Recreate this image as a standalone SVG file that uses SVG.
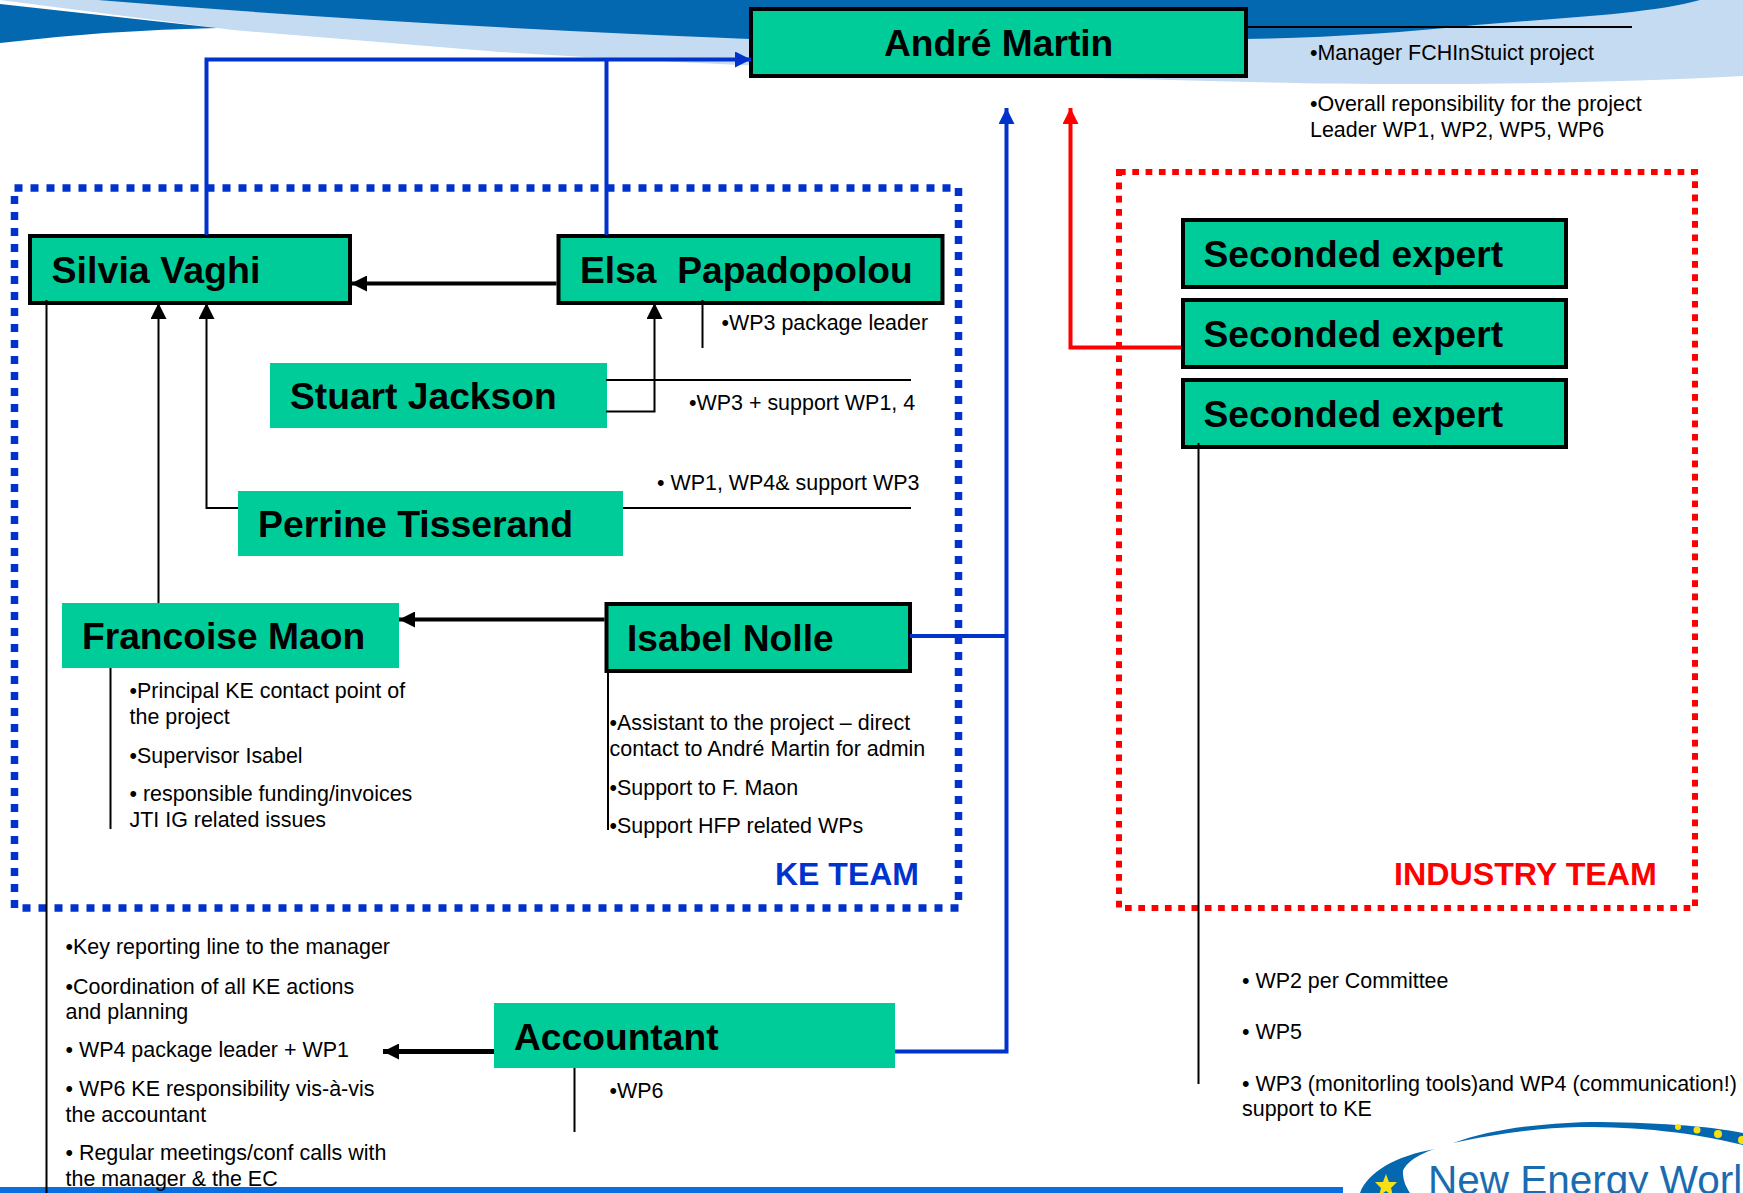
<svg xmlns="http://www.w3.org/2000/svg" width="1743" height="1193" viewBox="0 0 1743 1193">
<style>
.n{fill:#00cc99}
.b{stroke:#000;stroke-width:4}
.name{font:bold 37.200px "Liberation Sans",Arial,sans-serif;fill:#000}
.t{font:21.450px "Liberation Sans",Arial,sans-serif;fill:#000}
.team{font:bold 32px "Liberation Sans",Arial,sans-serif}
.thin{fill:none;stroke:#000;stroke-width:2}
.blk{fill:none;stroke:#000;stroke-width:4}
.blu{fill:none;stroke:#0033cc;stroke-width:4}
.red{fill:none;stroke:#ff0000;stroke-width:4}
</style>
<defs>
<marker id="ab" markerUnits="userSpaceOnUse" markerWidth="16" markerHeight="16" refX="16" refY="8" orient="auto"><path d="M0 0L16 8L0 16Z" fill="#000"/></marker>
<marker id="au" markerUnits="userSpaceOnUse" markerWidth="16" markerHeight="16" refX="16" refY="8" orient="auto"><path d="M0 0L16 8L0 16Z" fill="#0033cc"/></marker>
<marker id="ar" markerUnits="userSpaceOnUse" markerWidth="16" markerHeight="16" refX="16" refY="8" orient="auto"><path d="M0 0L16 8L0 16Z" fill="#ff0000"/></marker>
</defs>
<rect width="1743" height="1193" fill="#fff"/>
<g id="banner">
<path d="M0 0H1743V76C1600 84 1400 86 1250 82C1000 76 800 70 500 52L233 30Z" fill="#c5dbf1"/>
<path d="M0 43Q110 30 217 28L0 4Z" fill="#0468b1"/>
<path d="M98 0H1700C1650 14 1560 18 1476 25C1400 33 1320 38 1243 39H750Q400 25 98 0Z" fill="#0468b1"/>
</g>
<rect id="bottom-band" x="0" y="1187" width="1343" height="6" fill="#0a6de0"/>
<g id="logo">
<path d="M1360 1193C1368 1172 1395 1156 1435 1149C1412 1156 1402 1168 1403 1173C1403 1180 1406 1187 1410 1193Z" fill="#0468b1"/>
<path d="M1453 1143C1490 1130 1530 1124 1590 1122C1650 1122 1710 1126 1743 1133V1145C1690 1132 1640 1127 1580 1127C1535 1128 1490 1135 1453 1143Z" fill="#0468b1"/>
<polygon points="1386,1174 1389,1182 1397,1182 1391,1188 1393,1196 1386,1191 1379,1196 1381,1188 1375,1182 1383,1182" fill="#f7e017"/>
<circle cx="1678" cy="1127" r="3" fill="#f7e017"/><circle cx="1697" cy="1130" r="3.500" fill="#f7e017"/><circle cx="1718" cy="1134" r="4" fill="#f7e017"/><circle cx="1742" cy="1140" r="4" fill="#f7e017"/>
<text x="1428" y="1193.500" style="font:40.500px 'Liberation Sans',Arial,sans-serif;fill:#1a6cb0">New Energy Worl</text>
</g>
<g id="team-frames">
<rect x="14.500" y="188" width="944" height="720" fill="none" stroke="#0033cc" stroke-width="7.500" stroke-dasharray="8 8"/>
<rect x="1119" y="172" width="576" height="736" fill="none" stroke="#ff0000" stroke-width="6" stroke-dasharray="6.700 6.600"/>
<text class="team" x="775" y="885" fill="#0033cc">KE TEAM</text>
<text class="team" x="1394" y="885" fill="#ff0000" style="font-size:32.200px">INDUSTRY TEAM</text>
</g>
<g id="andre"><rect class="n b" x="751" y="9" width="495" height="67"/><text class="name" x="884" y="56">André Martin</text></g>
<g id="silvia"><rect class="n b" x="30" y="236" width="320" height="67"/><text class="name" x="51.500" y="283" textLength="209" lengthAdjust="spacingAndGlyphs">Silvia Vaghi</text></g>
<g id="elsa"><rect class="n b" x="558.500" y="236" width="384" height="67"/><text class="name" x="580" y="283" xml:space="preserve">Elsa  Papadopolou</text></g>
<g id="stuart"><rect class="n" x="270" y="363" width="337" height="65"/><text class="name" x="290" y="409">Stuart Jackson</text></g>
<g id="perrine"><rect class="n" x="238" y="491" width="385" height="65"/><text class="name" x="258" y="537" textLength="315" lengthAdjust="spacingAndGlyphs">Perrine Tisserand</text></g>
<g id="francoise"><rect class="n" x="62" y="603" width="337" height="65"/><text class="name" x="82" y="649">Francoise Maon</text></g>
<g id="isabel"><rect class="n b" x="606.500" y="604" width="303.500" height="67"/><text class="name" x="627" y="651">Isabel Nolle</text></g>
<g id="accountant"><rect class="n" x="494" y="1003" width="401" height="65"/><text class="name" x="514" y="1050">Accountant</text></g>
<g id="seconded-1"><rect class="n b" x="1183" y="220" width="383" height="67"/><text class="name" x="1203.500" y="267">Seconded expert</text></g>
<g id="seconded-2"><rect class="n b" x="1183" y="300" width="383" height="67"/><text class="name" x="1203.500" y="347">Seconded expert</text></g>
<g id="seconded-3"><rect class="n b" x="1183" y="380" width="383" height="67"/><text class="name" x="1203.500" y="427">Seconded expert</text></g>
<g id="connectors">
<path class="blu" d="M206.500 235V59.500H751" marker-end="url(#au)"/>
<path class="blu" d="M606.500 235V59.500"/>
<path class="blu" d="M895 1051.500H1006.500V108" marker-end="url(#au)"/>
<path class="blu" d="M910 636H1006.500"/>
<path class="red" d="M1181 347.500H1070.500V108" marker-end="url(#ar)"/>
<path class="blk" d="M556.500 283.500H351" marker-end="url(#ab)"/>
<path class="blk" d="M604.500 619.500H399" marker-end="url(#ab)"/>
<path class="blk" style="stroke-width:5" d="M494 1051.500H383" marker-end="url(#ab)"/>
<path class="thin" d="M606 411.500H654.500V303" marker-end="url(#ab)"/>
<path class="thin" d="M238 508H206.500V303" marker-end="url(#ab)"/>
<path class="thin" d="M158.500 603V303" marker-end="url(#ab)"/>
<path class="thin" d="M1247 27H1632"/>
<path class="thin" d="M46.500 300V1193"/>
<path class="thin" d="M110.500 668V829"/>
<path class="thin" d="M608 671V830"/>
<path class="thin" d="M702.500 300V348"/>
<path class="thin" d="M606 380H911"/>
<path class="thin" d="M623 508H911"/>
<path class="thin" d="M1198.500 443V1084"/>
<path class="thin" d="M574.500 1068V1132"/>
</g>
<g id="notes">
<text class="t" x="1310" y="60">•Manager FCHInStuict project</text>
<text class="t" x="1310" y="111">•Overall reponsibility for the project</text>
<text class="t" x="1310" y="137">Leader WP1, WP2, WP5, WP6</text>
<text class="t" x="721.500" y="330">•WP3 package leader</text>
<text class="t" x="689" y="410">•WP3 + support WP1, 4</text>
<text class="t" x="657" y="490">• WP1, WP4&amp; support WP3</text>
<text class="t" x="129.500" y="698">•Principal KE contact point of</text>
<text class="t" x="129.500" y="724">the project</text>
<text class="t" x="129.500" y="763">•Supervisor Isabel</text>
<text class="t" x="129.500" y="801">• responsible funding/invoices</text>
<text class="t" x="129.500" y="827">JTI IG related issues</text>
<text class="t" x="609.500" y="730">•Assistant to the project – direct</text>
<text class="t" x="609.500" y="756">contact to André Martin for admin</text>
<text class="t" x="609.500" y="795">•Support to F. Maon</text>
<text class="t" x="609.500" y="833">•Support HFP related WPs</text>
<text class="t" x="65.500" y="954">•Key reporting line to the manager</text>
<text class="t" x="65.500" y="994">•Coordination of all KE actions</text>
<text class="t" x="65.500" y="1019">and planning</text>
<text class="t" x="65.500" y="1057">• WP4 package leader + WP1</text>
<text class="t" x="65.500" y="1096">• WP6 KE responsibility vis-à-vis</text>
<text class="t" x="65.500" y="1122">the accountant</text>
<text class="t" x="65.500" y="1160">• Regular meetings/conf calls with</text>
<text class="t" x="65.500" y="1186">the manager &amp; the EC</text>
<text class="t" x="609.500" y="1098">•WP6</text>
<text class="t" x="1242" y="988">• WP2 per Committee</text>
<text class="t" x="1242" y="1039">• WP5</text>
<text class="t" x="1242" y="1091">• WP3 (monitorling tools)and WP4 (communication!)</text>
<text class="t" x="1242" y="1116">support to KE</text>
</g>
</svg>
